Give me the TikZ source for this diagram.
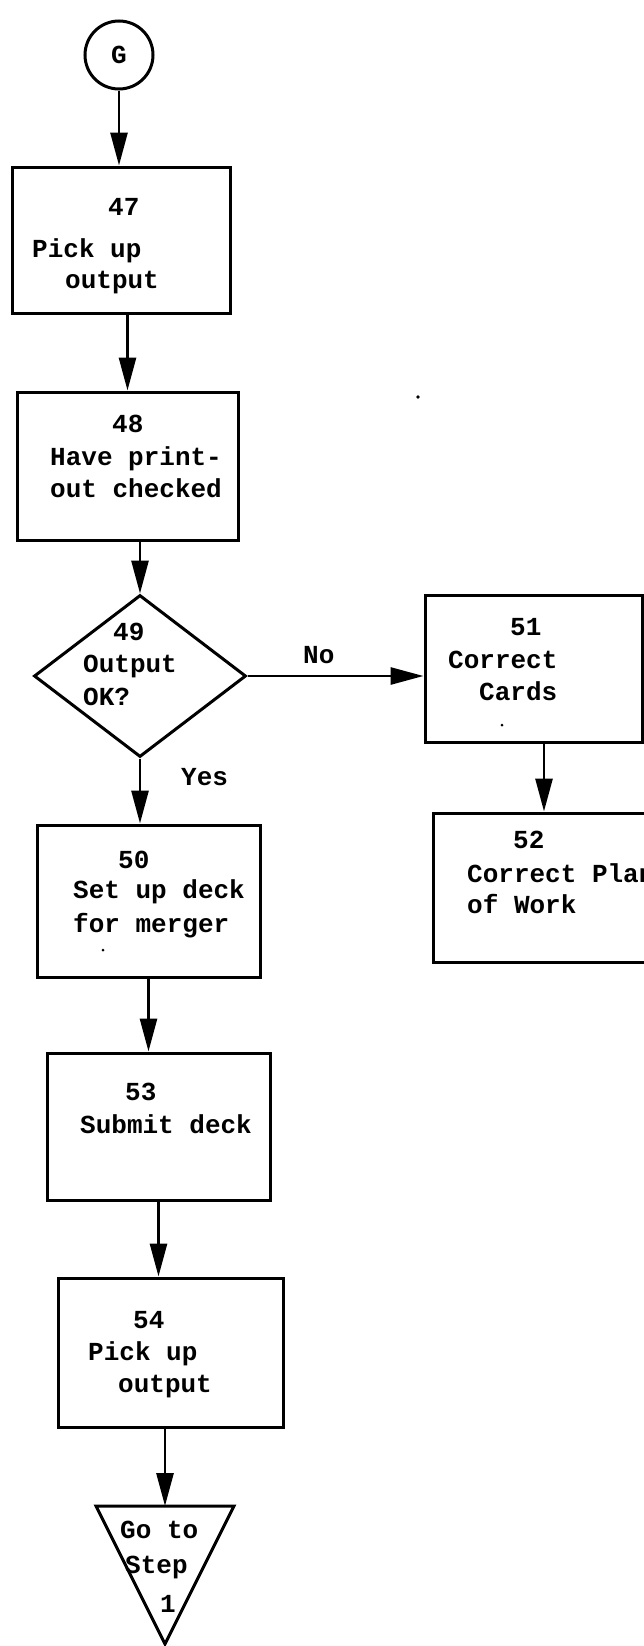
\documentclass[tikz,border=0pt]{standalone}
\usepackage{fontspec}
\setmonofont{Liberation Mono}
\usetikzlibrary{arrows.meta,shapes.geometric}
\begin{document}
\begin{tikzpicture}[x=1pt,y=-1pt,
  stepbox/.style={draw,rectangle,line width=3pt,inner sep=0pt},
  txt/.style={anchor=base west,inner sep=0pt,font=\fontsize{26}{26}\selectfont\ttfamily\bfseries},
  arr/.style={line width=2.8pt,-{Triangle[length=33pt,width=17pt]}}]
\useasboundingbox (0,0) rectangle (644,1646);
\clip (0,0) rectangle (644,1646);
% nodes
\node[circle,draw,line width=3pt,minimum size=68pt,inner sep=0pt,font=\fontsize{26}{26}\selectfont\ttfamily\bfseries] (G) at (119,55) {G};
\node[stepbox,minimum width=218pt,minimum height=146pt] (b47) at (121,240) {};
\node[stepbox,minimum width=221pt,minimum height=148pt] (b48) at (127.5,466) {};
\node[diamond,draw,line width=3pt,inner sep=0pt,aspect=1.3,minimum width=212pt,minimum height=162pt] (d49) at (140,676) {};
\node[stepbox,minimum width=217pt,minimum height=147pt] (b51) at (533.5,668.5) {};
\node[stepbox,minimum width=222pt,minimum height=149pt] (b52) at (544,887.5) {};
\node[stepbox,minimum width=223pt,minimum height=152pt] (b50) at (148.5,901) {};
\node[stepbox,minimum width=223pt,minimum height=147pt] (b53) at (158.5,1126.5) {};
\node[stepbox,minimum width=225pt,minimum height=149pt] (b54) at (170.5,1352.5) {};
\node[isosceles triangle,draw,line width=3pt,inner sep=0pt,outer sep=0pt,shape border rotate=-90,isosceles triangle stretches,minimum width=138pt,minimum height=138pt,anchor=apex] (tri) at (165,1644) {};
% texts
\node[txt] (t47) at (108,215) {47};
\node[txt] (t47a) at (32,257) {Pick up};
\node[txt] (t47b) at (65,288) {output};
\node[txt] (t48) at (112,432) {48};
\node[txt] (t48a) at (50,465) {Have print-};
\node[txt] (t48b) at (50,497) {out checked};
\node[txt] (t49) at (113,640) {49};
\node[txt] (t49a) at (83,672) {Output};
\node[txt] (t49b) at (83,705) {OK?};
\node[txt] (tno) at (303,663) {No};
\node[txt] (tyes) at (181,785) {Yes};
\node[txt] (t51) at (510,635) {51};
\node[txt] (t51a) at (448,668) {Correct};
\node[txt] (t51b) at (479,700) {Cards};
\node[txt] (t52) at (513,848) {52};
\node[txt] (t52a) at (467,882) {Correct Plan};
\node[txt] (t52b) at (467,913) {of Work};
\node[txt] (t50) at (118,868) {50};
\node[txt] (t50a) at (73,898) {Set up deck};
\node[txt] (t50b) at (73,932) {for merger};
\node[txt] (t53) at (125,1100) {53};
\node[txt] (t53a) at (80,1133) {Submit deck};
\node[txt] (t54) at (133,1328) {54};
\node[txt] (t54a) at (88,1360) {Pick up};
\node[txt] (t54b) at (118,1392) {output};
\node[txt] (tgo) at (120,1538) {Go to};
\node[txt] (tstep) at (125,1573) {Step};
\node[txt] (tone) at (160,1612) {1};
% specks
\fill (418,397) circle (1.8pt);
\fill (502,725) circle (1.5pt);
\fill (103,950) circle (1.5pt);
% connectors
\draw[arr] (G.south) -- (G.south |- b47.north);
\draw[arr] (b48.north |- b47.south) -- (b48.north);
\draw[arr] (d49.north |- b48.south) -- (d49.north);
\draw[arr] (d49.east) -- (d49.east -| b51.west);
\draw[arr] (d49.south) -- (d49.south |- b50.north);
\draw[arr] (b52.north |- b51.south) -- (b52.north);
\draw[arr] (b50.south) -- (b50.south |- b53.north);
\draw[arr] (b53.south) -- (b53.south |- b54.north);
\draw[arr] (tri.lower side |- b54.south) -- (tri.lower side);
\end{tikzpicture}
\end{document}
